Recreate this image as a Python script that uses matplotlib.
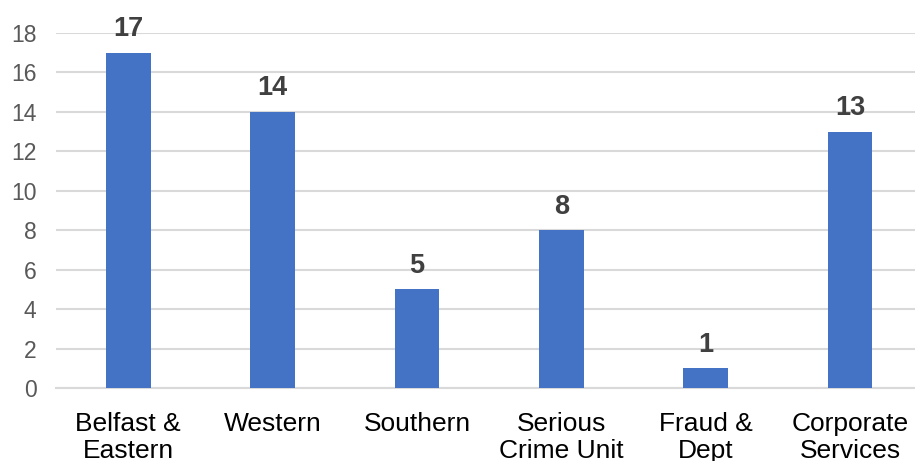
import matplotlib
matplotlib.use("Agg")
import matplotlib.pyplot as plt

plt.rcParams['font.family'] = ['Liberation Sans', 'DejaVu Sans']

categories = ['Belfast &\nEastern', 'Western', 'Southern', 'Serious\nCrime Unit', 'Fraud &\nDept', 'Corporate\nServices']
values = [17, 14, 5, 8, 1, 13]
yticks = [0, 2, 4, 6, 8, 10, 12, 14, 16, 18]

fig = plt.figure(figsize=(9.15, 4.61), dpi=100)
ax = fig.add_axes([0.0612, 0.1584, 0.9388, 0.7700])

x = list(range(len(categories)))
bars = ax.bar(x, values, width=0.31, color='#4472C4', zorder=3)

for xi, v in zip(x, values):
    ax.annotate(str(v), (xi, v), xytext=(0, 12), textcoords='offset points',
                ha='center', va='baseline', fontsize=19.5, fontweight='bold', color='#404040')

ax.set_xlim(-0.5, 5.45)
ax.set_ylim(0, 18)
ax.set_yticks(yticks)
ax.set_xticks(x)
ax.set_xticklabels(categories, fontsize=19, color='#000000', linespacing=1.17)
ax.tick_params(axis='y', labelsize=16.5, labelcolor='#595959', length=0, pad=14)
ax.tick_params(axis='x', length=0, pad=17)
ax.grid(axis='y', color='#D9D9D9', linewidth=1.5, zorder=0)
for s in ['top', 'right', 'left']:
    ax.spines[s].set_visible(False)
ax.spines['bottom'].set_color('#D9D9D9')
ax.spines['bottom'].set_linewidth(1.5)

fig.savefig('out.png', dpi=100)
